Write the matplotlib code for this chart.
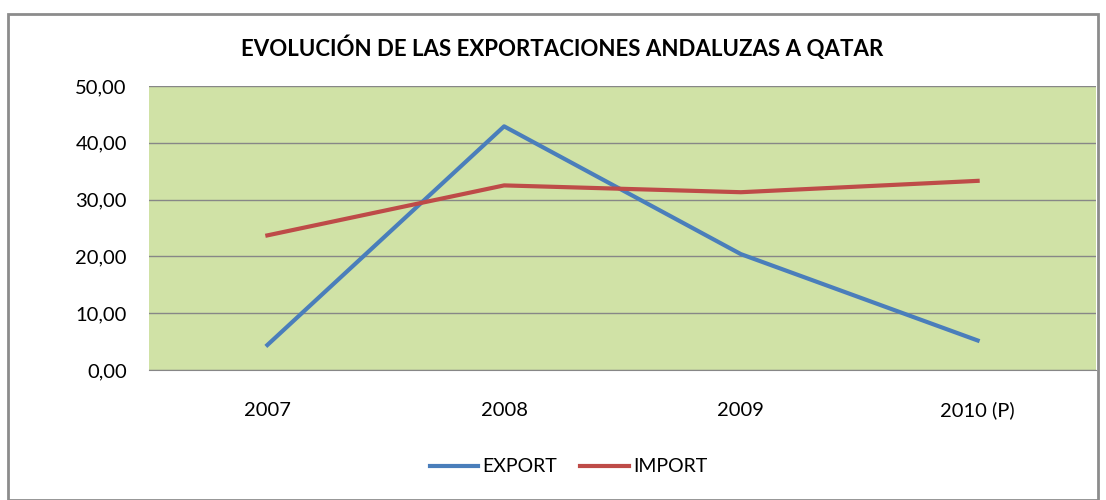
import matplotlib.pyplot as plt
from matplotlib.patches import Rectangle

plt.rcParams['font.family'] = ['Lato', 'DejaVu Sans']

#Data
years = ["2007", "2008", "2009", "2010 (P)"]
export = [4.4, 42.9, 20.4, 5.2]
imports = [23.7, 32.5, 31.3, 33.3]
yticks = [0, 10, 20, 30, 40, 50]

fig = plt.figure(figsize=(11.06, 5.0), dpi=100)
# outer chart border
fig.patches.append(Rectangle((8/1106, 0), 1090/1106, 486/500, transform=fig.transFigure,
                             fill=False, edgecolor='#8c8c8c', linewidth=2))

ax = fig.add_axes([149/1106, 130/500, 947/1106, 284/500])
ax.set_facecolor('#d0e2a6')

x = range(len(years))
ax.plot(x, export, color='#4a7ebb', linewidth=3, label="EXPORT")
ax.plot(x, imports, color='#be4b48', linewidth=3, label="IMPORT")

ax.set_xlim(-0.5, len(years) - 0.5)
ax.set_ylim(0, 50)
ax.set_yticks(yticks)
ax.set_yticklabels([f"{v:.2f}".replace('.', ',') for v in yticks])
ax.set_xticks(list(x))
ax.set_xticklabels(years)
ax.grid(axis='y', color='#878787', linewidth=1)
ax.set_axisbelow(True)
for s in ['left', 'right', 'top']:
    ax.spines[s].set_visible(False)
ax.spines['bottom'].set_color('#878787')
ax.tick_params(axis='both', length=0, labelsize=14.5)
ax.tick_params(axis='y', pad=16)
ax.tick_params(axis='x', pad=33)
for lbl in ax.get_xticklabels():
    lbl.set_verticalalignment('baseline')

fig.text(0.508, 0.904, "EVOLUCIÓN DE LAS EXPORTACIONES ANDALUZAS A QATAR",
         ha='center', va='center', fontsize=16, fontweight='bold')

fig.legend(loc='center', bbox_to_anchor=(0.514, 0.066), ncol=2, frameon=False,
           fontsize=14, handlelength=2.5, columnspacing=1.2, handletextpad=0.2)

plt.savefig("out.png", dpi=100)
